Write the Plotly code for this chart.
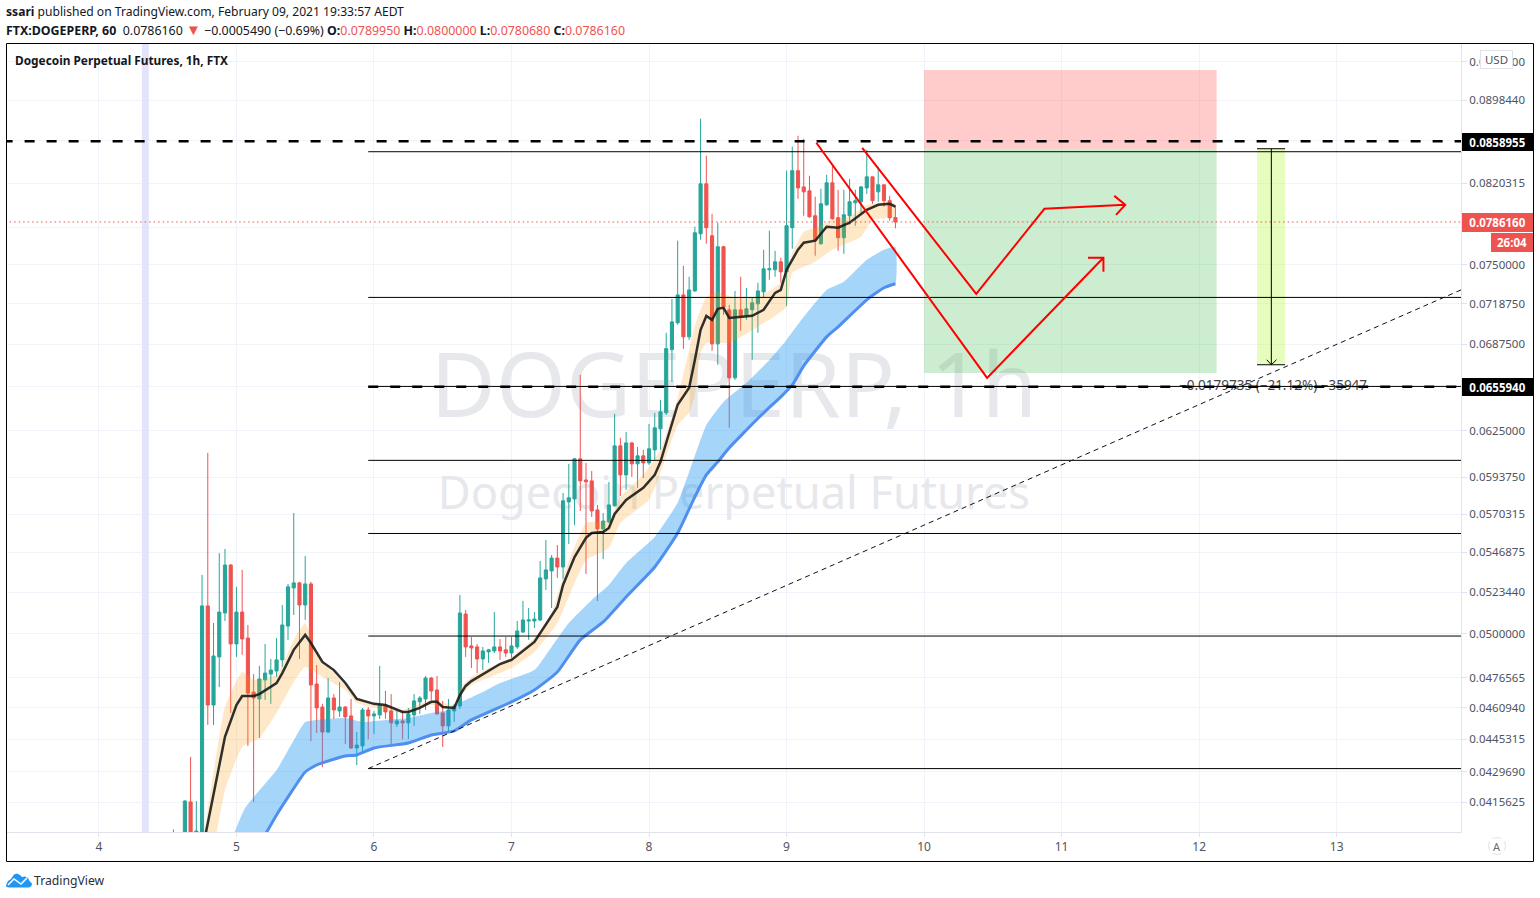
import pandas as pd
import plotly.graph_objects as go

W, H = 1540, 898
T0 = pd.Timestamp("2021-02-05 00:00")

# ---- candles: hourly, first candle at hour -11 from Feb 5 00:00
first_hour = -11
opens = [.0399,.0392,.0398,.04157,.0400,.0400,.05156,.04624,.04875,.05116,.05393,
 .04945,.05121,.04977,.04690,.04655,.04753,.04784,.04800,.04859,.05043,.05259,.05288,.05161,.05282,.04732,.04614,
 .04489,.04660,.04594,.04614,.04569,.04411,.04421,.04599,.04569,.04574,.04619,.04594,.04529,.04544,.04534,.04574,
 .04640,.04655,.04763,.04701,.04584,.04519,.04594,.04619,.05110,.04934,.04929,.04864,.04902,.04907,.04929,.04913,
 .04896,.04929,.05010,.05071,.05071,.05077,.05311,.05358,.05434,.05381,.05780,.05799,.06060,.05921,.05915,.05729,
 .05611,.05654,.05755,.06147,.05954,.06167,.06027,.06080,.06033,.06120,.06263,.06374,.06832,.07037,.07256,.06929,
 .07288,.07760,.08198,.07743,.06876,.07650,.07138,.06624,.07138,.07091,.07138,.07185,.07280,.07459,.07459,.07525,
 .07442,.07812,.08317,.08170,.08135,.07915,.07676,.08011,.08207,.07898,.07726,.07915,.08029,.08038,.08161,.08261,
 .08126,.08189,.08047,.078995]
highs = [.04033,.0400,.04165,.04368,.04161,.05334,.06100,.05060,.05464,.05489,.05399,
 .05265,.05364,.05049,.04784,.04827,.04945,.04864,.04977,.05161,.05282,.05710,.05294,.05446,.05294,.04832,.04630,
 .04763,.04680,.04742,.04619,.04655,.04489,.04609,.04614,.04594,.04827,.04696,.04680,.04594,.04589,.04609,.04680,
 .04670,.04774,.04769,.04774,.04645,.04655,.04630,.05218,.05133,.04983,.04945,.04929,.04918,.05121,.04972,.04983,
 .04983,.05071,.05184,.05144,.05121,.05417,.05543,.05452,.05513,.05837,.06027,.06066,.06646,.06033,.05980,.05761,
 .05710,.05908,.06367,.06201,.06242,.06174,.06140,.06120,.06297,.06374,.06466,.06960,.07224,.07701,.07492,.07402,
 .07821,.08806,.08455,.07932,.07855,.07658,.07177,.07288,.07402,.07312,.07232,.07353,.07625,.07786,.07616,.07558,
 .08317,.08539,.08642,.08614,.08271,.08082,.08153,.08280,.08372,.08144,.08144,.08243,.08144,.08180,.08511,.08261,
 .08354,.08189,.08090,.0800]
lows = [.0398,.0390,.0395,.0396,.0397,.0395,.04524,.04524,.04716,.05071,.04584,
 .04875,.04886,.04421,.04157,.04459,.04650,.04630,.04769,.04822,.04967,.05105,.04864,.05077,.04444,.04484,.04319,
 .04484,.04554,.04564,.04430,.04406,.04329,.04392,.04454,.04479,.04554,.04554,.04421,.04514,.04454,.04454,.04519,
 .04579,.04599,.04650,.04574,.04416,.04494,.04539,.04604,.04875,.04816,.04789,.04805,.04843,.04896,.04859,.04875,
 .04870,.04918,.05005,.04967,.05032,.05071,.05247,.05144,.05317,.05311,.05519,.05636,.05723,.05340,.05685,.05184,
 .05428,.05648,.05750,.05818,.05857,.05941,.05870,.05934,.06020,.06053,.06120,.06360,.06595,.07022,.06839,.06906,
 .07280,.07709,.07676,.06824,.06720,.07098,.06270,.06609,.06975,.07060,.06757,.06960,.07232,.07377,.07402,.07353,
 .07168,.07633,.08064,.07915,.07898,.07575,.07667,.08002,.07880,.07616,.07591,.07838,.07829,.07941,.08108,.08020,
 .08038,.07994,.07872,.078068]
closes = [.0401,.0398,.04161,.0400,.04026,.05156,.04624,.04880,.05121,.05393,.04945,
 .05121,.04972,.04685,.04660,.04758,.04789,.04805,.04859,.05049,.05265,.05288,.05161,.05282,.04727,.04609,.04489,
 .04660,.04599,.04614,.04564,.04411,.04425,.04599,.04569,.04579,.04624,.04589,.04534,.04544,.04534,.04579,.04645,
 .04660,.04763,.04696,.04579,.04519,.04599,.04619,.05116,.04929,.04923,.04864,.04907,.04913,.04929,.04907,.04896,
 .04934,.05016,.05077,.05077,.05082,.05317,.05364,.05434,.05381,.05787,.05806,.06060,.05915,.05909,.05723,.05611,
 .05660,.05761,.06147,.05954,.06167,.06027,.06080,.06033,.06127,.06270,.06381,.06840,.07044,.07256,.06929,.07296,
 .07769,.08198,.07812,.06876,.07650,.07161,.06624,.07138,.07083,.07146,.07193,.07288,.07467,.07467,.07525,.07442,
 .07829,.08317,.08161,.08126,.07906,.07701,.08020,.08207,.07889,.07726,.07924,.08038,.08047,.08170,.08261,.08047,
 .08189,.08047,.07898,.078616]

# ---- moving average (black)
ma_hours = [-6,-4,-2,0,1,3,4,7,8,10,12,13,15,17,19,21,24,26,29,30,32,34,35,36,38,39,40,41,43,46,48,52,56,57,59,61,62,64,65,66,68,71,73,74,77,79,80,81,82,83,84,85,86,90,92,94,95,96,98,99,101,103,105,107,110,112,114,115]
ma_vals = [.03935,.04188,.04465,.04624,.04670,.04670,.04680,.04737,.04789,.04913,.04994,.04950,.04848,.04805,.04737,.04655,.04630,.04624,.04589,.04589,.04609,.04640,.04640,.04614,.04609,.04675,.04722,.04747,.04784,.04837,.04859,.04956,.05150,.05276,.05440,.05556,.05586,.05592,.05617,.05704,.05793,.05870,.05954,.06040,.06431,.06552,.06756,.06983,.07090,.07060,.07146,.07154,.07075,.07091,.07138,.07272,.07296,.07459,.07625,.07684,.07701,.07820,.07812,.07855,.07967,.08011,.08020,.07994]

# ---- blue band
blue_low_hours = [3,7,9,12,14,15,19,21,24,30,34,38,41,48,52,56,60,64,68,73,77,80,82,84,86,88,92,95,97,99,103,105,110,113,115]
blue_low_vals = [.03921,.04098,.04179,.04296,.04329,.04339,.04372,.04377,.04411,.04435,.04474,.04494,.04549,.04640,.04701,.04795,.04967,.05066,.05207,.05381,.05586,.05812,.05954,.06040,.06134,.06215,.06374,.06487,.06573,.06712,.06929,.07006,.07217,.07313,.07345]
blue_up_hours = [-1,1.5,7,10,12,14,19,22,26,30,34,37,39,43,46,52,55,58,62,65,68,73,77,79,82,85,89,93,96,99,103,106,110,113,115]
blue_up_vals = [.03978,.04129,.04305,.04449,.04539,.04549,.04559,.04539,.04549,.04559,.04584,.04599,.04635,.04690,.04737,.04805,.04929,.05060,.05190,.05276,.05405,.05562,.05774,.05973,.06290,.06451,.06588,.06756,.06906,.07083,.07296,.07361,.07541,.07625,.07650]

# ---- orange band
or_up_hours = [-6,-5,-2,1,3,7,10,12,14,17,21,29,34,38,39,41,48,52,55,57,59,61,65,67,71,74,77,79,80,82,84,86.5,91,95,97,99,101,104,107,110,114,115]
or_up_vals = [.03944,.04120,.04614,.04795,.04753,.04779,.04967,.05060,.04896,.04789,.04665,.04599,.04650,.04624,.04711,.04769,.04875,.04977,.05116,.05323,.05501,.05648,.05667,.05812,.05954,.06120,.06479,.06832,.07014,.07240,.07280,.07240,.07240,.07353,.07600,.07777,.07812,.07880,.07906,.08011,.08038,.08011]
or_lo_hours = [-4,-2,1,4,7,10,12,15,19,21,29,34,38,39,41,48,52,56,59,61,65,67,72,74,77,79,80,81,82,86,91,96,97,101,104,109,111,115]
or_lo_vals = [.03944,.04212,.04416,.04459,.04584,.04742,.04822,.04769,.04701,.04635,.04584,.04624,.04599,.04665,.04727,.04816,.04902,.05060,.05288,.05423,.05495,.05648,.05793,.05967,.06290,.06374,.06501,.06809,.06883,.06883,.07007,.07161,.07434,.07525,.07625,.07735,.07880,.07906]

# ---- drawings
fib_levels = [.08492,.07236,.06562,.06050,.05583,.04988,.04312]
fib_start_hour, far_hour = 23, 240
dash_top, dash_bottom, last_price = .0858955, .0655940, .0786160
trend_hours, trend_vals = [23, 213.7], [.04312, .07296]
arrow_a_hours = [101.2,131.0,151.3,148.6,151.3,151.3]
arrow_a_vals = [.08576,.06624,.07558,.07558,.07558,.07442]
arrow_b_hours = [109.2,129.1,141.0,155.1,153.2,155.1,153.5]
arrow_b_vals = [.08529,.07264,.07976,.08011,.08090,.08011,.07923]
pos_hours = [120, 171.05]
stop_range = [.08520, .09290]
target_range = [.06660, .08520]
range_hours = [178.1, 183.0]
range_arrow_hour, range_wing_hours = 180.6, [179.8, 181.5]
range_vals = [.08520, .06720]
range_wing_val = .06757
vband_hours = [-16.5, -15.3]

# ---- axis
day_numbers = [4,5,6,7,8,9,10,11,12,13]
y_ticks = [.09375,.089844,.0859375,.0820315,.078125,.075,.071875,.06875,.065625,.0625,.059375,.0570315,.0546875,.052344,.05,.0476565,.046094,.0445315,.042969,.0415625]
y_range = [-1.39557, -1.01959]
x_hours_range = [-40.04, 213.7]

def D(h):
    if isinstance(h, (list, tuple)):
        return [T0 + pd.Timedelta(hours=float(v)) for v in h]
    return T0 + pd.Timedelta(hours=float(h))
def X(p): return p / W
def Y(p): return 1 - p / H

FONT = "Noto Sans"
TEAL, RED = "#26a69a", "#ef5350"
fig = go.Figure()
over = dict(xaxis="x2", yaxis="y2", hoverinfo="skip", showlegend=False)

# watermark on base axes (beneath everything)
fig.add_trace(go.Scatter(x=[D(86.8), D(86.8)], y=[.06501, .05806], mode="text",
    text=["DOGEPERP, 1h", "Dogecoin Perpetual Futures"],
    textfont=dict(family=FONT, size=[89.6, 45.2], color="#e6e8ec"),
    textposition="middle center", hoverinfo="skip", showlegend=False))
fig.add_trace(go.Scatter(x=D([vband_hours[0], vband_hours[1], vband_hours[1], vband_hours[0], vband_hours[0]]),
    y=[.035,.035,.11,.11,.035], mode="lines", line=dict(width=0), fill="toself",
    fillcolor="#e3e3fb", hoverinfo="skip", showlegend=False))

fig.add_trace(go.Candlestick(
    x=[D(first_hour + i) for i in range(len(opens))],
    open=opens, high=highs, low=lows, close=closes,
    increasing=dict(line=dict(color=TEAL, width=1), fillcolor=TEAL),
    decreasing=dict(line=dict(color=RED, width=1), fillcolor=RED),
    whiskerwidth=0, **over))

def band(xu, yu, xl, yl, color):
    fig.add_trace(go.Scatter(x=D(xu) + D(xl[::-1]), y=yu + yl[::-1], mode="lines",
        line=dict(width=0, shape="spline", smoothing=0.4), fill="toself", fillcolor=color, **over))

band(or_up_hours, or_up_vals, or_lo_hours, or_lo_vals, "rgba(255,152,0,0.22)")
band(blue_up_hours, blue_up_vals, blue_low_hours, blue_low_vals, "rgba(33,150,243,0.40)")
fig.add_trace(go.Scatter(x=D(blue_low_hours), y=blue_low_vals, mode="lines",
    line=dict(color="#4f8ff0", width=3, shape="spline", smoothing=0.5), **over))
fig.add_trace(go.Scatter(x=D(ma_hours), y=ma_vals, mode="lines",
    line=dict(color="rgba(30,30,30,0.92)", width=2.5), **over))

def rect(h, v, color):
    fig.add_trace(go.Scatter(x=D([h[0],h[1],h[1],h[0],h[0]]), y=[v[0],v[0],v[1],v[1],v[0]],
        mode="lines", line=dict(width=0), fill="toself", fillcolor=color, **over))

rect(pos_hours, stop_range, "rgba(255,82,82,0.30)")
rect(pos_hours, target_range, "rgba(70,190,80,0.27)")
rect(range_hours, range_vals, "rgba(200,250,110,0.45)")

fig.add_trace(go.Scatter(x=[D(180.9)], y=[dash_bottom], mode="text",
    text=["\u22120.0179735 (\u221221.12%) \u221235947"],
    textfont=dict(family=FONT, size=13.5, color="#444"), textposition="middle center",
    hoverinfo="skip", showlegend=False, xaxis="x2", yaxis="y2"))

for lv in fib_levels:
    fig.add_trace(go.Scatter(x=D([fib_start_hour, far_hour]), y=[lv, lv], mode="lines",
        line=dict(color="#000", width=1), **over))
fig.add_trace(go.Scatter(x=D(trend_hours), y=trend_vals, mode="lines",
    line=dict(color="#111", width=1, dash="5px,4px"), **over))
fig.add_trace(go.Scatter(x=D([-60, far_hour]), y=[dash_top, dash_top], mode="lines",
    line=dict(color="#000", width=2.5, dash="10px,12px"), **over))
fig.add_trace(go.Scatter(x=D([fib_start_hour, far_hour]), y=[dash_bottom, dash_bottom], mode="lines",
    line=dict(color="#000", width=2.5, dash="10px,12px"), **over))
fig.add_trace(go.Scatter(x=D([-60, far_hour]), y=[last_price, last_price], mode="lines",
    line=dict(color=RED, width=1, dash="1.5px,3px"), **over))
fig.add_trace(go.Scatter(x=D(arrow_a_hours), y=arrow_a_vals, mode="lines",
    line=dict(color="#ff0000", width=2), **over))
fig.add_trace(go.Scatter(x=D(arrow_b_hours), y=arrow_b_vals, mode="lines",
    line=dict(color="#ff0000", width=2), **over))
# measuring tool
fig.add_trace(go.Scatter(
    x=D(range_hours) + [None] + D(range_hours) + [None] + D([range_arrow_hour, range_arrow_hour]) + [None]
      + D([range_wing_hours[0], range_arrow_hour, range_wing_hours[1]]),
    y=[range_vals[0], range_vals[0], None, range_vals[1], range_vals[1], None, range_vals[0], range_vals[1], None,
       range_wing_val, range_vals[1], range_wing_val],
    mode="lines", line=dict(color="#000", width=1), **over))

# ---- annotations
RS = '<span style="color:#ef5350">%s</span>'
TRI = ' <span style="color:#ef5350;font-size:15px">\u25bc</span> '
hdr1 = "<b>ssari</b> published on TradingView.com, February 09, 2021 19:33:57 AEDT"
hdr2 = ("<b>FTX:DOGEPERP, 60</b>  0.0786160" + TRI + "\u22120.0005490 (\u22120.69%) "
        "<b>O:</b>" + RS % "0.0789950" + " <b>H:</b>" + RS % "0.0800000" +
        " <b>L:</b>" + RS % "0.0780680" + " <b>C:</b>" + RS % "0.0786160")
def text(px, py, s, size=12.5, color="#131722", anchor="left", **kw):
    fig.add_annotation(x=X(px), y=Y(py), xref="paper", yref="paper", text=s, showarrow=False,
        xanchor=anchor, yanchor="middle", font=dict(family=FONT, size=size, color=color), **kw)

text(4, 12, hdr1, size=12.1)
text(4, 29.5, hdr2, size=12.4)
text(13, 60, "<b>Dogecoin Perpetual Futures, 1h, FTX</b>", size=11.85)
text(32, 880, "TradingView", size=12.2, color="#2a2e39")

def badge(x0, x1, yc, h, s, bg, fc="#ffffff", border=None, size=11.5):
    fig.add_annotation(x=X((x0 + x1) / 2), y=Y(yc), xref="paper", yref="paper", text=s, showarrow=False,
        xanchor="center", yanchor="middle", width=x1 - x0, height=h, bgcolor=bg, align="center", valign="middle",
        borderpad=0, borderwidth=1 if border else 0, bordercolor=border or bg,
        font=dict(family=FONT, size=size, color=fc))

badge(1462, 1533, 142, 18, "<b>0.0858955</b>", "#000000")
badge(1462, 1533, 386.5, 18, "<b>0.0655940</b>", "#000000")
badge(1462, 1533, 222, 19, "<b>0.0786160</b>", RED)
badge(1491, 1533, 242, 19, "<b>26:04</b>", RED)
badge(1481, 1512, 59.5, 17, "USD", "#ffffff", fc="#50535e", border="#e0e3eb", size=11.5)
badge(1490, 1504, 846, 14, "A", "#ffffff", fc="#6a6d78", size=11)

shapes = [
    dict(type="rect", xref="paper", yref="paper", x0=X(6.5), x1=X(1533.5), y0=Y(861.5), y1=Y(43.5),
         line=dict(color="#000", width=1), layer="above"),
    dict(type="circle", xref="paper", yref="paper", x0=X(1488.5), x1=X(1505.5), y0=Y(854.5), y1=Y(837.5),
         line=dict(color="#e0e3eb", width=1), layer="below"),
]
def P(pts, close=False):
    s = "M" + " L".join(f"{X(a):.5f},{Y(b):.5f}" for a, b in pts)
    return s + (" Z" if close else "")
cloud = [(6,885),(8,881),(11,879),(14,874.5),(17,873.5),(20,875),(22,877),(25,876.5),(28,878),(29.5,881),(32,883.5),(31.5,886),(29,887.5),(9,887.5),(6.5,887)]
zig = [(8,885),(14,879),(21,884),(27,878)]
shapes.append(dict(type="path", xref="paper", yref="paper", path=P(cloud, True),
                   fillcolor="#2196f3", line=dict(width=0)))
shapes.append(dict(type="path", xref="paper", yref="paper", path=P(zig),
                   line=dict(color="#ffffff", width=1.5)))

dom_x = [X(7), X(1461)]
dom_y = [Y(832), Y(44)]
x_rng = [D(x_hours_range[0]), D(x_hours_range[1])]
fig.update_layout(
    width=W, height=H, margin=dict(l=0, r=0, t=0, b=0), autosize=False,
    paper_bgcolor="#ffffff", plot_bgcolor="#ffffff", showlegend=False, shapes=shapes,
    hovermode=False, boxgap=0.22,
    xaxis=dict(domain=dom_x, range=x_rng, type="date", tickmode="array",
        tickvals=[D((d - 5) * 24) for d in day_numbers], ticktext=[str(d) for d in day_numbers],
        showgrid=True, gridcolor="#f0f3fa", gridwidth=1, showline=True, linecolor="#e0e3eb", linewidth=1,
        ticks="outside", ticklen=4, tickcolor="#e0e3eb",
        tickfont=dict(family=FONT, size=12, color="#50535e"), zeroline=False, fixedrange=True),
    yaxis=dict(domain=dom_y, range=y_range, type="log", side="right", tickmode="array",
        tickvals=y_ticks, ticktext=[f"{t:.7f}" for t in y_ticks],
        showgrid=True, gridcolor="#f0f3fa", gridwidth=1, showline=True, linecolor="#e0e3eb", linewidth=1,
        ticks="outside", ticklen=5, tickcolor="#e0e3eb",
        tickfont=dict(family=FONT, size=11.5, color="#50535e"), zeroline=False, fixedrange=True),
    xaxis2=dict(domain=dom_x, range=x_rng, type="date", overlaying="x", anchor="y2", visible=False,
        rangeslider=dict(visible=False), fixedrange=True),
    yaxis2=dict(domain=dom_y, range=y_range, type="log", overlaying="y", anchor="x2", side="right",
        visible=False, fixedrange=True),
)
fig.write_html("out.html", config=dict(displayModeBar=False),
               post_script="document.body.style.margin='0';document.body.style.overflow='hidden';")
